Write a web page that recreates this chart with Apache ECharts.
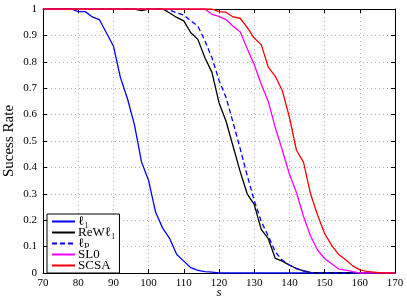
<!DOCTYPE html>
<html><head><meta charset="utf-8">
<script src="https://cdn.jsdelivr.net/npm/echarts@6/dist/echarts.min.js"></script>
<style>html,body{margin:0;padding:0;background:#fff}#c{width:407px;height:297px}</style>
</head><body><div id="c"></div>
<script>
var sValues = [70,72,74,76,78,80,82,84,86,88,90,92,94,96,98,100,102,104,106,108,110,112,114,116,118,120,122,124,126,128,130,132,134,136,138,140,142,144,146,148,150,152,154,156,158,160,162,164,166,168,170];
var l1 = [1,1,1,1,1,0.99,0.99,0.97,0.96,0.91,0.86,0.74,0.66,0.56,0.42,0.35,0.23,0.17,0.13,0.07,0.045,0.02,0.01,0.005,0.003,0,0,0,0,0,0,0,0,0,0,0,0,0,0,0,0,0,0,0,0,0,0,0,0,0,0];
var rewl1 = [1,1,1,1,1,1,1,1,1,1,1,1,1,1,0.994,1,1,1,0.985,0.968,0.955,0.91,0.885,0.815,0.76,0.645,0.575,0.48,0.385,0.30,0.26,0.165,0.13,0.055,0.045,0.03,0.017,0.008,0.002,0,0,0,0,0,0,0,0,0,0,0,0];
var lp = [1,1,1,1,1,1,1,1,1,1,1,1,1,1,1,1,1,1,0.995,0.985,0.977,0.955,0.935,0.88,0.815,0.73,0.665,0.57,0.472,0.37,0.275,0.195,0.14,0.08,0.048,0.03,0.017,0.008,0.002,0,0,0,0,0,0,0,0,0,0,0,0];
var sl0 = [1,1,1,1,1,1,1,1,1,1,1,1,1,1,1,1,1,1,1,1,1,1,1,1,0.98,0.972,0.96,0.935,0.914,0.85,0.79,0.715,0.65,0.55,0.465,0.375,0.305,0.215,0.14,0.087,0.055,0.035,0.015,0.011,0.005,0,0,0,0,0,0];
var scsa = [1,1,1,1,1,1,1,1,1,1,1,1,1,1,1,1,1,1,1,1,1,1,1,1,1,0.99,0.988,0.97,0.965,0.93,0.89,0.865,0.78,0.745,0.69,0.59,0.465,0.42,0.30,0.22,0.15,0.105,0.07,0.05,0.027,0.012,0.006,0.003,0,0,0];
var seriesNames = ['ℓ₁','ReWℓ₁','ℓₚ','SL0','SCSA'];
var xTicks = [70,80,90,100,110,120,130,140,150,160,170];
var yTicks = [0,0.1,0.2,0.3,0.4,0.5,0.6,0.7,0.8,0.9,1];

function pairs(arr){ return sValues.map(function(s,i){ return [s, arr[i]]; }); }
var FONT = '"Liberation Serif","DejaVu Serif",serif';
var chart = echarts.init(document.getElementById('c'));
var tickStyle = {show:true, inside:true, length:4, lineStyle:{color:'#000', width:1}};
var axisLine = {show:true, onZero:false, lineStyle:{color:'#000', width:1}};
var split = {show:true, lineStyle:{color:'#b0b0b0', type:[1,3], width:1}};
function mk(name, data, color, dashed){
  return {name:name, type:'line', data:pairs(data), symbol:'none', animation:false,
    lineStyle:{color:color, width:1.3, type: dashed ? [5,3] : 'solid'}, itemStyle:{color:color}};
}
chart.setOption({
  backgroundColor:'#fff',
  animation:false,
  grid:{left:43, right:12, top:9, bottom:24, containLabel:false, outerBoundsMode:'none'},
  legend:{
    orient:'vertical', left:47, top:214, itemWidth:23, itemHeight:10, itemGap:-2,
    padding:[1,4,1,4], borderColor:'#000', borderWidth:1, backgroundColor:'#fff',
    itemStyle:{opacity:0},
    textStyle:{fontFamily:FONT, fontSize:13, lineHeight:11, color:'#000', padding:[0,0,0,-2]},
    data:seriesNames
  },
  xAxis:[{
    type:'value', min:70, max:170, interval:10,
    name:'s', nameLocation:'middle', nameGap:13, nameMoveOverlap:false,
    nameTextStyle:{fontFamily:FONT, fontSize:13, fontStyle:'italic', color:'#000', verticalAlign:'top'},
    axisLine:axisLine, axisTick:tickStyle, splitLine:split,
    axisLabel:{fontFamily:FONT, fontSize:11, color:'#000', margin:5,
      formatter:function(v){ return xTicks.indexOf(v) >= 0 ? String(v) : ''; }}
  },{
    type:'value', min:70, max:170, interval:10, position:'top',
    axisLine:axisLine, axisTick:tickStyle, splitLine:{show:false}, axisLabel:{show:false}
  }],
  yAxis:[{
    type:'value', min:0, max:1, interval:0.1,
    name:'Sucess Rate', nameLocation:'middle', nameGap:26, nameRotate:90, nameMoveOverlap:false,
    nameTextStyle:{fontFamily:FONT, fontSize:15, color:'#000'},
    axisLine:axisLine, axisTick:tickStyle, splitLine:split,
    axisLabel:{fontFamily:FONT, fontSize:11, color:'#000', margin:6,
      formatter:function(v){ var r = Math.round(v*10)/10; return yTicks.indexOf(r) >= 0 ? (r===0?'0':(r===1?'1':r.toFixed(1))) : ''; }}
  },{
    type:'value', min:0, max:1, interval:0.1, position:'right',
    axisLine:axisLine, axisTick:tickStyle, splitLine:{show:false}, axisLabel:{show:false}
  }],
  series:[
    mk(seriesNames[0], l1, '#0000ff', false),
    mk(seriesNames[1], rewl1, '#000000', false),
    mk(seriesNames[2], lp, '#0000ff', true),
    mk(seriesNames[3], sl0, '#ff00ff', false),
    mk(seriesNames[4], scsa, '#ff0000', false)
  ]
});
</script></body></html>
